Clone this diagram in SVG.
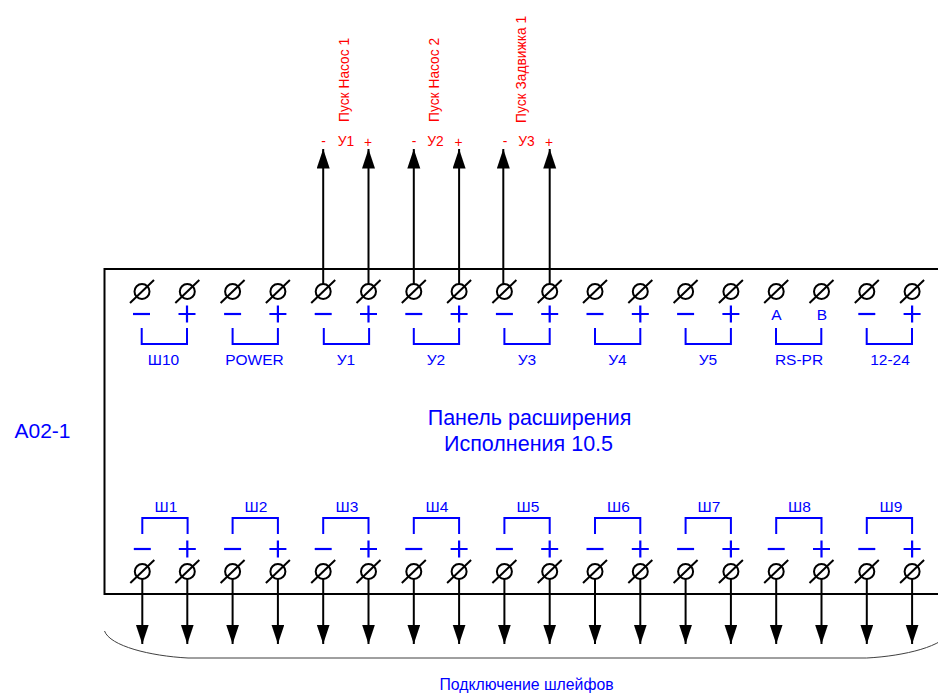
<svg xmlns="http://www.w3.org/2000/svg" width="938" height="695" viewBox="0 0 938 695">
<style>
text{font-family:"Liberation Sans",Arial,sans-serif;text-anchor:middle}
.b{fill:#0000ff;font-size:15.500px}
.cap{fill:#0000ff;font-size:15.800px}
.r{fill:#ff0000;font-size:13.800px}
.big{fill:#0000ff;font-size:21.500px}
.br{fill:none;stroke:#0000ff;stroke-width:2}
.sg{fill:none;stroke:#0000ff;stroke-width:2.200}
.wire{fill:none;stroke:#000;stroke-width:2}
.box{fill:none;stroke:#000;stroke-width:2}
.thin{fill:none;stroke:#404040;stroke-width:1}
</style>
<defs>
<g id="term"><circle r="7.500" fill="none" stroke="#000" stroke-width="2"/><path d="M-12 11.500L12-11.500" fill="none" stroke="#000" stroke-width="2"/></g>
<path id="minus" class="sg" d="M-8.500 0H8.500"/>
<path id="plus" class="sg" d="M-8.500 0H8.500M0-8.500V8.500"/>
<marker id="arr" markerUnits="userSpaceOnUse" markerWidth="20" markerHeight="14" refX="19.500" refY="6.500" orient="auto"><path d="M0 0L19.500 6.500L0 13Z" fill="#000"/></marker>
<path id="bt" class="br" d="M0 0V16H45.300V0"/>
<path id="bb" class="br" d="M0 16V0H45.300V16"/>
</defs>
<g id="panel"><path class="box" d="M938 269H104.500V594H938"/></g>
<g id="connectors">
<path class="wire" marker-end="url(#arr)" d="M323.200 284V149"/><path class="wire" marker-end="url(#arr)" d="M368.500 284V149"/>
<path class="wire" marker-end="url(#arr)" d="M413.800 284V149"/><path class="wire" marker-end="url(#arr)" d="M459.100 284V149"/>
<path class="wire" marker-end="url(#arr)" d="M503.300 284V149"/><path class="wire" marker-end="url(#arr)" d="M549.700 284V149"/>
<path class="wire" marker-end="url(#arr)" d="M142.300 579V644"/><path class="wire" marker-end="url(#arr)" d="M187.300 579V644"/>
<path class="wire" marker-end="url(#arr)" d="M232.600 579V644"/><path class="wire" marker-end="url(#arr)" d="M277.900 579V644"/>
<path class="wire" marker-end="url(#arr)" d="M323.200 579V644"/><path class="wire" marker-end="url(#arr)" d="M368.500 579V644"/>
<path class="wire" marker-end="url(#arr)" d="M413.800 579V644"/><path class="wire" marker-end="url(#arr)" d="M459.100 579V644"/>
<path class="wire" marker-end="url(#arr)" d="M504.400 579V644"/><path class="wire" marker-end="url(#arr)" d="M549.700 579V644"/>
<path class="wire" marker-end="url(#arr)" d="M595 579V644"/><path class="wire" marker-end="url(#arr)" d="M640.300 579V644"/>
<path class="wire" marker-end="url(#arr)" d="M685.600 579V644"/><path class="wire" marker-end="url(#arr)" d="M730.900 579V644"/>
<path class="wire" marker-end="url(#arr)" d="M776.200 579V644"/><path class="wire" marker-end="url(#arr)" d="M821.500 579V644"/>
<path class="wire" marker-end="url(#arr)" d="M866.800 579V644"/><path class="wire" marker-end="url(#arr)" d="M912.100 579V644"/>
</g>
<g id="brace"><path class="thin" d="M104.500 631C110 646 150 656 188 658H866.700C905 656 945 646 950 631"/></g>
<g id="top-sh10"><use href="#term" x="142" y="291.500"/><use href="#term" x="187.300" y="291.500"/><use href="#minus" x="141.500" y="314"/><use href="#plus" x="187" y="314"/><use href="#bt" x="141.700" y="328"/><text class="b" x="163.500" y="365">Ш10</text></g>
<g id="top-power"><use href="#term" x="232.600" y="291.500"/><use href="#term" x="277.900" y="291.500"/><use href="#minus" x="232.600" y="314"/><use href="#plus" x="277.900" y="314"/><use href="#bt" x="232.600" y="328"/><text class="b" x="254.500" y="365">POWER</text></g>
<g id="top-u1"><use href="#term" x="323.200" y="291.500"/><use href="#term" x="368.500" y="291.500"/><use href="#minus" x="323.200" y="314"/><use href="#plus" x="368.500" y="314"/><use href="#bt" x="323.800" y="328"/><text class="b" x="346" y="365">У1</text></g>
<g id="top-u2"><use href="#term" x="413.800" y="291.500"/><use href="#term" x="459.100" y="291.500"/><use href="#minus" x="413.800" y="314"/><use href="#plus" x="459.100" y="314"/><use href="#bt" x="413.800" y="328"/><text class="b" x="436" y="365">У2</text></g>
<g id="top-u3"><use href="#term" x="504.400" y="291.500"/><use href="#term" x="549.700" y="291.500"/><use href="#minus" x="504.400" y="314"/><use href="#plus" x="549.700" y="314"/><use href="#bt" x="504.400" y="328"/><text class="b" x="527" y="365">У3</text></g>
<g id="top-u4"><use href="#term" x="595" y="291.500"/><use href="#term" x="640.300" y="291.500"/><use href="#minus" x="595" y="314"/><use href="#plus" x="640.300" y="314"/><use href="#bt" x="595" y="328"/><text class="b" x="617.500" y="365">У4</text></g>
<g id="top-u5"><use href="#term" x="685.600" y="291.500"/><use href="#term" x="730.900" y="291.500"/><use href="#minus" x="685.600" y="314"/><use href="#plus" x="730.900" y="314"/><use href="#bt" x="685.600" y="328"/><text class="b" x="708" y="365">У5</text></g>
<g id="top-rs"><use href="#term" x="776.200" y="291.500"/><use href="#term" x="821.500" y="291.500"/><text class="b" x="776.500" y="320">A</text><text class="b" x="822" y="320">B</text><use href="#bt" x="776" y="328"/><text class="b" x="799" y="365">RS-PR</text></g>
<g id="top-1224"><use href="#term" x="866.800" y="291.500"/><use href="#term" x="912.100" y="291.500"/><use href="#minus" x="866.800" y="314"/><use href="#plus" x="912.100" y="314"/><use href="#bt" x="866.700" y="328"/><text class="b" x="890" y="365">12-24</text></g>
<g id="bot-sh1"><use href="#term" x="142.300" y="571.500"/><use href="#term" x="187.300" y="571.500"/><use href="#minus" x="142.300" y="549"/><use href="#plus" x="187.300" y="549"/><use href="#bb" x="142.300" y="518"/><text class="b" x="166" y="511.500">Ш1</text></g>
<g id="bot-sh2"><use href="#term" x="232.600" y="571.500"/><use href="#term" x="277.900" y="571.500"/><use href="#minus" x="232.600" y="549"/><use href="#plus" x="277.900" y="549"/><use href="#bb" x="232.600" y="518"/><text class="b" x="256" y="511.500">Ш2</text></g>
<g id="bot-sh3"><use href="#term" x="323.200" y="571.500"/><use href="#term" x="368.500" y="571.500"/><use href="#minus" x="323.200" y="549"/><use href="#plus" x="368.500" y="549"/><use href="#bb" x="323.200" y="518"/><text class="b" x="347" y="511.500">Ш3</text></g>
<g id="bot-sh4"><use href="#term" x="413.800" y="571.500"/><use href="#term" x="459.100" y="571.500"/><use href="#minus" x="413.800" y="549"/><use href="#plus" x="459.100" y="549"/><use href="#bb" x="413.800" y="518"/><text class="b" x="437" y="511.500">Ш4</text></g>
<g id="bot-sh5"><use href="#term" x="504.400" y="571.500"/><use href="#term" x="549.700" y="571.500"/><use href="#minus" x="504.400" y="549"/><use href="#plus" x="549.700" y="549"/><use href="#bb" x="504.400" y="518"/><text class="b" x="528" y="511.500">Ш5</text></g>
<g id="bot-sh6"><use href="#term" x="595" y="571.500"/><use href="#term" x="640.300" y="571.500"/><use href="#minus" x="595" y="549"/><use href="#plus" x="640.300" y="549"/><use href="#bb" x="595" y="518"/><text class="b" x="618.500" y="511.500">Ш6</text></g>
<g id="bot-sh7"><use href="#term" x="685.600" y="571.500"/><use href="#term" x="730.900" y="571.500"/><use href="#minus" x="685.600" y="549"/><use href="#plus" x="730.900" y="549"/><use href="#bb" x="685.600" y="518"/><text class="b" x="709" y="511.500">Ш7</text></g>
<g id="bot-sh8"><use href="#term" x="776.200" y="571.500"/><use href="#term" x="821.500" y="571.500"/><use href="#minus" x="776.200" y="549"/><use href="#plus" x="821.500" y="549"/><use href="#bb" x="776.200" y="518"/><text class="b" x="799.500" y="511.500">Ш8</text></g>
<g id="bot-sh9"><use href="#term" x="866.800" y="571.500"/><use href="#term" x="912.100" y="571.500"/><use href="#minus" x="866.800" y="549"/><use href="#plus" x="912.100" y="549"/><use href="#bb" x="866.800" y="518"/><text class="b" x="891" y="511.500">Ш9</text></g>
<g id="out-u1"><text class="r" x="323.500" y="146">-</text><text class="r" x="346" y="146">У1</text><text class="r" x="368" y="147">+</text><text class="r" transform="translate(349 122) rotate(-90)" style="text-anchor:start">Пуск Насос 1</text></g>
<g id="out-u2"><text class="r" x="414" y="146">-</text><text class="r" x="435.500" y="146">У2</text><text class="r" x="458.500" y="147">+</text><text class="r" transform="translate(439 122) rotate(-90)" style="text-anchor:start">Пуск Насос 2</text></g>
<g id="out-u3"><text class="r" x="505" y="146">-</text><text class="r" x="526.500" y="146">У3</text><text class="r" x="549" y="147">+</text><text class="r" transform="translate(526 123) rotate(-90)" style="text-anchor:start">Пуск Задвижка 1</text></g>
<g id="title"><text class="big" x="529.500" y="425">Панель расширения</text><text class="big" x="528.500" y="451">Исполнения 10.5</text></g>
<g id="label-a"><text class="big" style="font-size:21px" x="42.500" y="438">A02-1</text></g>
<g id="caption"><text class="cap" x="526.500" y="690">Подключение шлейфов</text></g>
</svg>
